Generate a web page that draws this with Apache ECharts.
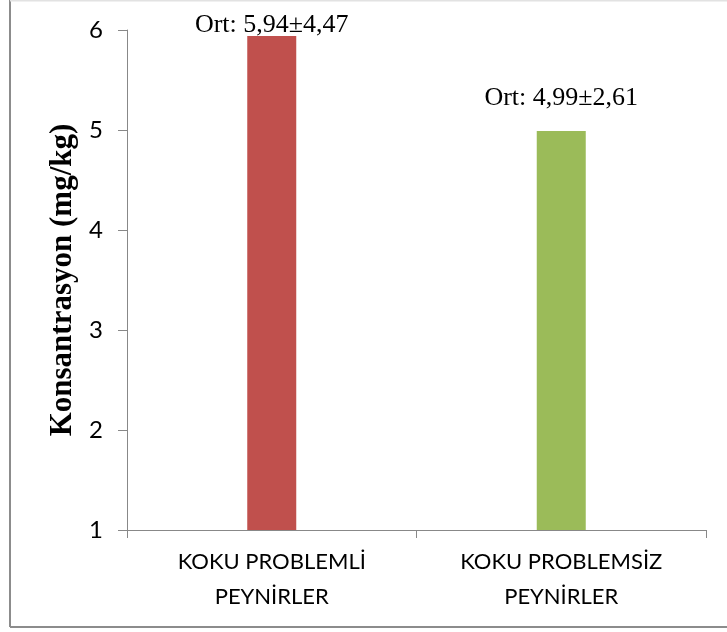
<!DOCTYPE html>
<html>
<head>
<meta charset="utf-8">
<script src="https://cdn.jsdelivr.net/npm/echarts@6/dist/echarts.min.js"></script>
<style>
html,body{margin:0;padding:0;background:#fff;}
#chart{width:727px;height:632px;}
</style>
</head>
<body>
<div id="chart"></div>
<script>
var categories = ['KOKU PROBLEMLİ\nPEYNİRLER', 'KOKU PROBLEMSİZ\nPEYNİRLER'];
var values = [5.94, 4.99];
var labels = ['Ort: 5,94±4,47', 'Ort: 4,99±2,61'];
var colors = ['#C0504D', '#9BBB59'];
var labelGaps = [-2, 20];
var yTicks = [1, 2, 3, 4, 5, 6];

var chart = echarts.init(document.getElementById('chart'), null, {renderer: 'canvas'});
chart.setOption({
  animation: false,
  backgroundColor: '#fff',
  graphic: [
    {type: 'line', shape: {x1: 10, y1: 627, x2: 727, y2: 627}, style: {stroke: '#8c8c8c', lineWidth: 2}},
    {type: 'line', shape: {x1: 10, y1: 0, x2: 10, y2: 627}, style: {stroke: '#8c8c8c', lineWidth: 2}},
    {type: 'line', shape: {x1: 10, y1: 0.5, x2: 727, y2: 0.5}, style: {stroke: '#e2e2e2', lineWidth: 2}}
  ],
  grid: {left: 127, right: 21, top: 30, bottom: 102, containLabel: false},
  xAxis: {
    type: 'category',
    data: categories,
    axisLine: {lineStyle: {color: '#888', width: 1}},
    axisTick: {show: true, length: 8, lineStyle: {color: '#888'}},
    axisLabel: {color: '#000', fontFamily: 'Lato', fontSize: 22, lineHeight: 35, margin: 14, interval: 0}
  },
  yAxis: {
    type: 'value',
    min: yTicks[0],
    max: yTicks[yTicks.length - 1],
    interval: 1,
    name: 'Konsantrasyon (mg/kg)',
    nameLocation: 'middle',
    nameGap: 46,
    nameTextStyle: {fontFamily: 'Liberation Serif', fontWeight: 'bold', fontSize: 31, color: '#000'},
    axisLine: {show: true, lineStyle: {color: '#888'}},
    axisTick: {show: true, length: 9, lineStyle: {color: '#888'}},
    splitLine: {show: false},
    axisLabel: {color: '#000', fontFamily: 'Lato', fontSize: 24, margin: 24}
  },
  series: [{
    type: 'bar',
    barWidth: 49,
    data: values.map(function (v, i) {
      return {
        value: v,
        itemStyle: {color: colors[i]},
        label: {
          show: true,
          position: 'top',
          distance: labelGaps[i],
          formatter: labels[i],
          fontFamily: 'Liberation Serif',
          fontSize: 26,
          color: '#000'
        }
      };
    })
  }]
});
</script>
</body>
</html>
